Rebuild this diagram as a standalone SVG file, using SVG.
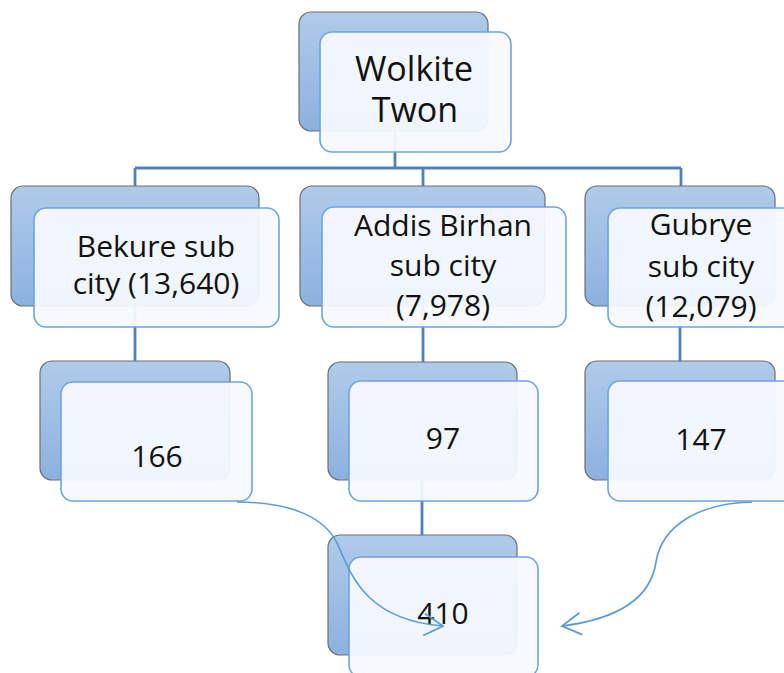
<svg xmlns="http://www.w3.org/2000/svg" width="784" height="673" viewBox="0 0 784 673">
  <defs>
    <linearGradient id="backGrad" x1="0" y1="0" x2="0" y2="1">
      <stop offset="0" stop-color="#b0cbea"/>
      <stop offset="1" stop-color="#8cb1df"/>
    </linearGradient>
    <marker id="chev" markerUnits="userSpaceOnUse" markerWidth="30" markerHeight="30" refX="0" refY="0" viewBox="-22 -15 30 30" orient="auto">
      <path d="M-19,-11 L0,0 L-19,11" fill="none" stroke="#5b9bd5" stroke-width="1.8"/>
    </marker>
    <style>
      .back { fill: url(#backGrad); stroke: #6b6f75; stroke-width: 1.2; }
      .front { fill: #f6f9fd; fill-opacity: 0.95; stroke: #6fa3dc; stroke-width: 1.6; }
      .conn { stroke: #4f81bd; stroke-width: 2.8; fill: none; }
      .curve { stroke: #5b9bd5; stroke-width: 1.6; fill: none; }
      .lbl { font-family: "Open Sans", "Noto Sans", sans-serif; font-size: 30px; fill: #111; text-anchor: middle; }
      .big { font-size: 34px; }
    </style>
  </defs>

  <!-- back rectangles -->
  <g id="backs">
    <rect class="back" x="299" y="12" width="189" height="119" rx="12"/>
    <rect class="back" x="11" y="186" width="248" height="120" rx="12"/>
    <rect class="back" x="300" y="186" width="245" height="120" rx="12"/>
    <rect class="back" x="585" y="186" width="190" height="120" rx="12"/>
    <rect class="back" x="40" y="361" width="190" height="119" rx="12"/>
    <rect class="back" x="328" y="362" width="189" height="118" rx="12"/>
    <rect class="back" x="585" y="361" width="190" height="119" rx="12"/>
    <rect class="back" x="328" y="535" width="189" height="120" rx="12"/>
  </g>

  <!-- connectors -->
  <g id="connectors">
    <path class="conn" d="M395,131 V168 M135,168 H681 M135,168 V186 M423,168 V186 M681,168 V186"/>
    <path class="conn" d="M135,306 V361 M423,306 V362 M680,306 V361 M422,480 V535"/>
  </g>

  <g id="node-top">
    <rect class="front" x="320" y="32" width="191" height="120" rx="12"/>
    <text class="lbl big" x="414" y="81">Wolkite</text>
    <text class="lbl big" x="415" y="122">Twon</text>
  </g>

  <g id="node-bekure">
    <rect class="front" x="34" y="208" width="245" height="119" rx="12"/>
    <text class="lbl" x="156" y="257">Bekure sub</text>
    <text class="lbl" x="156" y="294">city (13,640)</text>
  </g>

  <g id="node-addis">
    <rect class="front" x="322" y="207" width="244" height="120" rx="12"/>
    <text class="lbl" x="443" y="236">Addis Birhan</text>
    <text class="lbl" x="443" y="276">sub city</text>
    <text class="lbl" x="443" y="316">(7,978)</text>
  </g>

  <g id="node-gubrye">
    <rect class="front" x="608" y="208" width="192" height="119" rx="12"/>
    <text class="lbl" x="701" y="235">Gubrye</text>
    <text class="lbl" x="701" y="277">sub city</text>
    <text class="lbl" x="701" y="317">(12,079)</text>
  </g>

  <g id="node-166">
    <rect class="front" x="61" y="382" width="191" height="119" rx="12"/>
    <text class="lbl" x="157" y="467">166</text>
  </g>

  <g id="node-97">
    <rect class="front" x="349" y="381" width="189" height="120" rx="12"/>
    <text class="lbl" x="443" y="449">97</text>
  </g>

  <g id="node-147">
    <rect class="front" x="608" y="381" width="192" height="120" rx="12"/>
    <text class="lbl" x="701" y="450">147</text>
  </g>

  <g id="node-410">
    <rect class="front" x="349" y="557" width="189" height="120" rx="12"/>
    <text class="lbl" x="443" y="624">410</text>
  </g>

  <g id="arrows">
    <path class="curve" d="M237,502 C292,502 326,518 338,545 C352,578 368,620 443,626" marker-end="url(#chev)"/>
    <path class="curve" d="M752,502 C700,503 662,525 656,562 C650,603 610,620 562,626" marker-end="url(#chev)"/>
  </g>
</svg>
